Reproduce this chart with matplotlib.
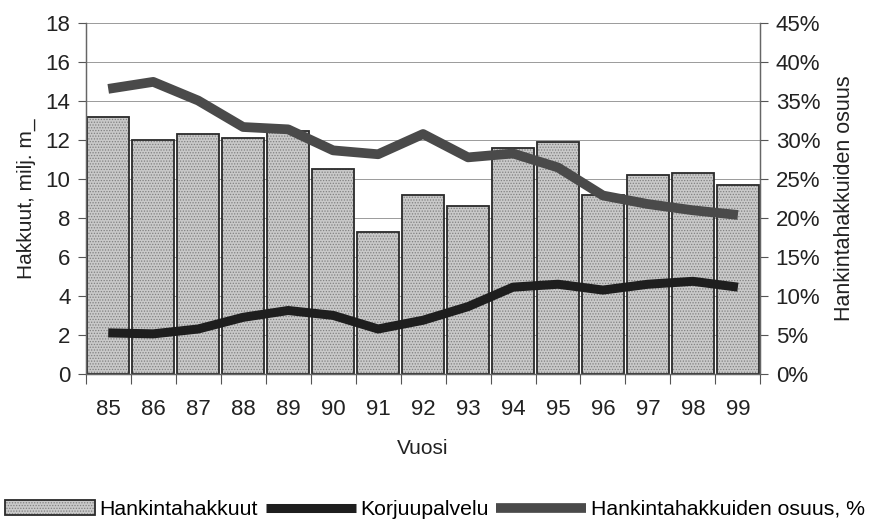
import numpy as np
import matplotlib.pyplot as plt
from matplotlib.ticker import FuncFormatter

plt.rcParams['font.family'] = ['Liberation Sans', 'DejaVu Sans']
plt.rcParams['hatch.linewidth'] = 0.6

# Data
vuodet = ['85', '86', '87', '88', '89', '90', '91', '92', '93', '94', '95', '96', '97', '98', '99']
hankintahakkuut = [13.2, 12.0, 12.3, 12.1, 12.5, 10.5, 7.3, 9.2, 8.6, 11.6, 11.9, 9.2, 10.2, 10.3, 9.7]
korjuupalvelu = [2.1, 2.05, 2.3, 2.9, 3.25, 3.0, 2.3, 2.75, 3.45, 4.45, 4.6, 4.3, 4.6, 4.75, 4.45]
osuus = [36.6, 37.5, 35.1, 31.7, 31.4, 28.7, 28.2, 30.8, 27.8, 28.3, 26.5, 22.9, 21.8, 21.0, 20.4]

fig = plt.figure(figsize=(8.75, 5.22), dpi=100)
ax = fig.add_axes([0.098, 0.284, 0.771, 0.671])
x = np.arange(len(vuodet))

bars = ax.bar(x, hankintahakkuut, width=0.93, color='#c9c9c9', edgecolor='#2a2a2a',
              linewidth=1.3, hatch='......', zorder=2)
for b in bars:
    b._hatch_color = (0.5, 0.5, 0.5, 1.0)

ax.plot(x, korjuupalvelu, color='#1e1e1e', lw=6.5, solid_joinstyle='round',
        solid_capstyle='butt', zorder=4)

ax.set_xlim(-0.5, len(vuodet) - 0.5)
ax.set_ylim(0, 18)
ax.set_yticks(range(0, 19, 2))
ax.set_xticks(x)
ax.set_xticklabels(vuodet)
ax.set_xticks(np.arange(-0.5, len(vuodet), 1), minor=True)
ax.tick_params(axis='x', which='major', length=0, pad=18, labelsize=16, colors='#222222')
ax.tick_params(axis='x', which='minor', length=7, width=0.8, color='#555555', direction='out')
ax.tick_params(axis='y', length=6, width=0.8, color='#555555', labelsize=16,
               labelcolor='#222222', pad=5)
ax.grid(axis='y', color='#9a9a9a', lw=0.7, zorder=0)
ax.set_axisbelow(True)
for s in ['left', 'right', 'top', 'bottom']:
    ax.spines[s].set_color('#666666')
    ax.spines[s].set_linewidth(0.9)
ax.spines['top'].set_visible(False)

ax.set_ylabel('Hakkuut, milj. m_', fontsize=15, color='#222222', labelpad=7)
ax.set_xlabel('Vuosi', fontsize=15, color='#222222', labelpad=14)

ax2 = ax.twinx()
ax2.plot(x, osuus, color='#4a4a4a', lw=7, solid_joinstyle='round',
         solid_capstyle='butt', zorder=4)
ax2.set_ylim(0, 45)
ax2.set_yticks(range(0, 46, 5))
ax2.yaxis.set_major_formatter(FuncFormatter(lambda v, p: f'{int(v)}%'))
ax2.tick_params(axis='y', length=6, width=0.8, color='#555555', labelsize=16,
                labelcolor='#222222', pad=5)
for s in ['left', 'right', 'top', 'bottom']:
    ax2.spines[s].set_color('#666666')
    ax2.spines[s].set_linewidth(0.9)
ax2.spines['top'].set_visible(False)
ax2.set_ylabel('Hankintahakkuiden osuus', fontsize=15.5, color='#222222', labelpad=10)

handles = [bars, ax.lines[0], ax2.lines[0]]
labels = ['Hankintahakkuut', 'Korjuupalvelu', 'Hankintahakkuiden osuus, %']
fig.legend(handles, labels, loc='center', bbox_to_anchor=(0.497, 0.024), ncol=3,
           frameon=False, fontsize=15.3, handlelength=4.25, handletextpad=0.2,
           columnspacing=0.35, handleheight=0.7, borderpad=0, borderaxespad=0)

plt.savefig('out.png', dpi=100)
